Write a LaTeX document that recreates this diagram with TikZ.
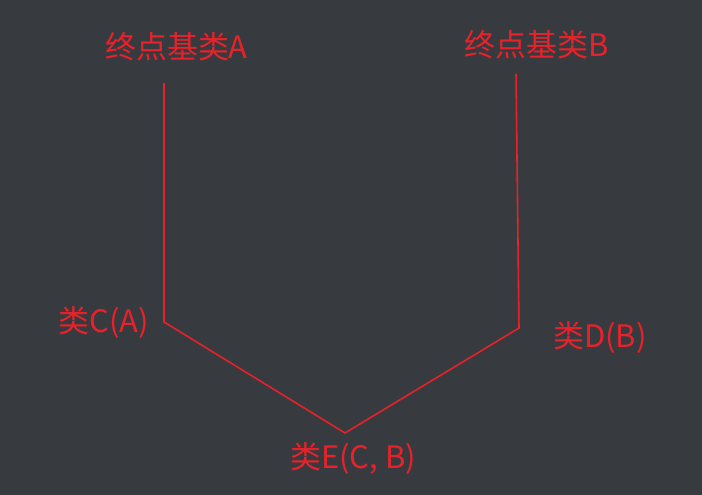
\documentclass[tikz,border=0pt]{standalone}
\usepackage{fontspec}
\setmainfont{Noto Sans CJK SC}
\usetikzlibrary{positioning}
\definecolor{bgGray}{HTML}{373A3F}
\definecolor{lineRed}{HTML}{E8222A}
\tikzset{
    label text/.style={text=lineRed, inner sep=0pt, font=\fontsize{8.8pt}{10.5pt}\selectfont},
    link/.style={draw=lineRed, line width=0.45pt}
}

\begin{document}
\begin{tikzpicture}
    \fill[bgGray] (0,0) rectangle (7.02,-4.95);
    \useasboundingbox (0,0) rectangle (7.02,-4.95);

    \node[label text] (BASEA) at (1.765,-0.47) {终点基类A};
    \node[label text] (BASEB) at (5.37,-0.45) {终点基类B};
    \node[label text] (CLASSC) at (1.04,-3.23) {类C(A)};
    \node[label text] (CLASSD) at (6.00,-3.38) {类D(B)};
    \node[label text] (CLASSE) at (3.53,-4.59) {类E(C, B)};

    \coordinate (ATOP) at (1.64,-0.83);
    \coordinate (CJOIN) at (1.64,-3.22);
    \coordinate (BTOP) at (5.16,-0.74);
    \coordinate (DJOIN) at (5.19,-3.28);
    \coordinate (EJOIN) at (3.45,-4.33);

    \draw[link] (ATOP) -- (CJOIN) -- (EJOIN) -- (DJOIN) -- (BTOP);

    %\draw[help lines] (0,0) grid (7,-5);
\end{tikzpicture}
\end{document}
